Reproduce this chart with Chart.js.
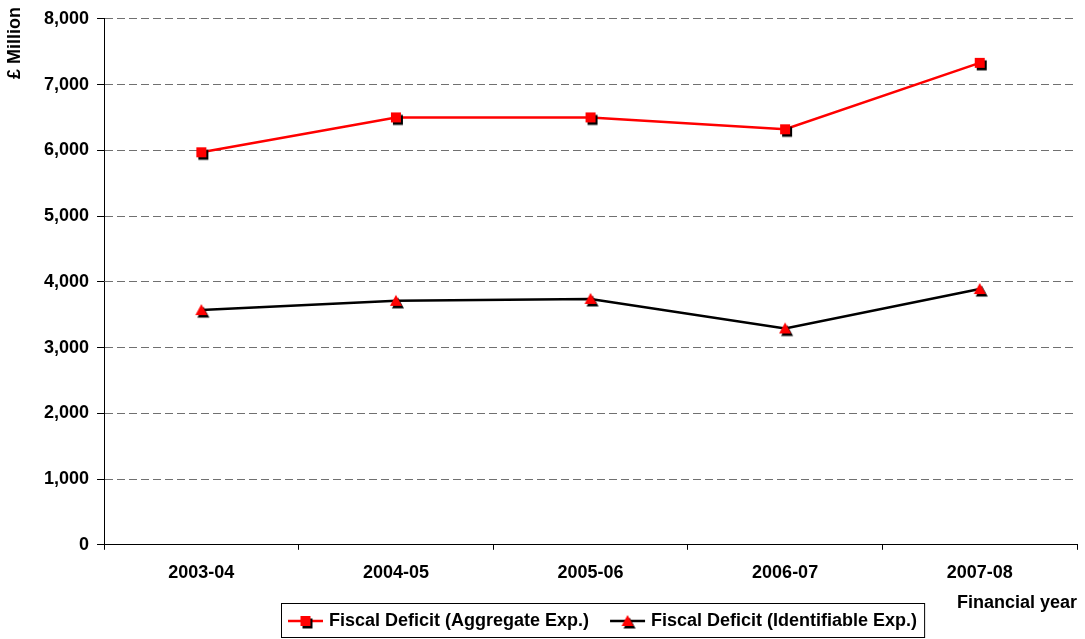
<!DOCTYPE html>
<html>
<head>
<meta charset="utf-8">
<script src="https://cdn.jsdelivr.net/npm/chart.js@4"></script>
<style>
    html, body { margin: 0; padding: 0; background: #fff; }
    #wrap { width: 1085px; height: 639px; }
</style>
</head>
<body>
<div id="wrap"><canvas id="deficit-chart" width="1085" height="639"></canvas></div>
<script>
const years = ['2003-04', '2004-05', '2005-06', '2006-07', '2007-08'];
const aggregateDeficit = [5970, 6500, 6500, 6320, 7330];
const identifiableDeficit = [3570, 3710, 3740, 3290, 3890];
const seriesLabels = ['Fiscal Deficit (Aggregate Exp.)', 'Fiscal Deficit (Identifiable Exp.)'];
const yTitle = '£ Million';
const xTitle = 'Financial year';

const FONT = '"Liberation Sans", Arial, sans-serif';

// marker images: red shape with a black drop shadow, like the old Excel look
function makeMarker(shape) {
    const c = document.createElement('canvas');
    c.width = 20;
    c.height = 20;
    const g = c.getContext('2d');
    const draw = (dx, dy, color) => {
        g.fillStyle = color;
        g.beginPath();
        if (shape === 'square') {
            g.rect(5 + dx, 5 + dy, 10, 10);
        } else {
            g.moveTo(10 + dx, 4 + dy);
            g.lineTo(16 + dx, 15 + dy);
            g.lineTo(4 + dx, 15 + dy);
            g.closePath();
        }
        g.fill();
    };
    draw(2, 2.5, '#000000');
    draw(0, 0, '#ff0000');
    return c;
}

const squareMarker = makeMarker('square');
const triangleMarker = makeMarker('triangle');

const extraText = {
    id: 'extraText',
    afterDraw(chart) {
        const ctx = chart.ctx;
        ctx.save();
        ctx.fillStyle = '#000';
        ctx.font = 'bold 18px ' + FONT;
        ctx.textAlign = 'center';
        ctx.textBaseline = 'middle';
        ctx.translate(15, 43);
        ctx.rotate(-Math.PI / 2);
        ctx.fillText(yTitle, 0, 0);
        ctx.restore();

        // boxed legend
        ctx.save();
        ctx.font = 'bold 18px ' + FONT;
        const items = chart.data.datasets.map(ds => ({
            text: ds.label,
            color: ds.borderColor,
            marker: ds.pointStyle,
            w: ctx.measureText(ds.label).width
        }));
        const sample = 35, gap = 6, itemGap = 21, padX = 7;
        let total = padX * 2;
        items.forEach((it, i) => {
            total += sample + gap + it.w + (i > 0 ? itemGap : 0);
        });
        const boxX = 281, boxY = 603, boxH = 34;
        ctx.strokeStyle = '#000';
        ctx.lineWidth = 1;
        ctx.strokeRect(boxX + 0.5, boxY + 0.5, total, boxH);
        let x = boxX + padX;
        const cy = boxY + boxH / 2 + 1;
        items.forEach((it, i) => {
            if (i > 0) x += itemGap;
            ctx.strokeStyle = it.color;
            ctx.lineWidth = 2.5;
            ctx.beginPath();
            ctx.moveTo(x, cy);
            ctx.lineTo(x + sample, cy);
            ctx.stroke();
            ctx.drawImage(it.marker, x + sample / 2 - 10, cy - 10);
            x += sample + gap;
            ctx.fillStyle = '#000';
            ctx.textAlign = 'left';
            ctx.textBaseline = 'middle';
            ctx.fillText(it.text, x, cy);
            x += it.w;
        });
        ctx.restore();
    }
};

document.addEventListener('DOMContentLoaded', () => {
    const canvas = document.getElementById('deficit-chart');
    const ctx = canvas.getContext('2d');
    const tickFont = { family: FONT, size: 18, weight: 'bold' };

    new Chart(ctx, {
        type: 'line',
        data: {
            labels: years,
            datasets: [
                {
                    label: seriesLabels[0],
                    data: aggregateDeficit,
                    borderColor: '#ff0000',
                    backgroundColor: '#ff0000',
                    borderWidth: 2.5,
                    pointStyle: squareMarker,
                    tension: 0
                },
                {
                    label: seriesLabels[1],
                    data: identifiableDeficit,
                    borderColor: '#000000',
                    backgroundColor: '#000000',
                    borderWidth: 2.5,
                    pointStyle: triangleMarker,
                    tension: 0
                }
            ]
        },
        options: {
            responsive: false,
            animation: false,
            layout: {
                padding: { left: 36, right: 8, top: 11, bottom: 25 }
            },
            plugins: {
                legend: { display: false },
                tooltip: { enabled: false }
            },
            scales: {
                x: {
                    offset: true,
                    grid: {
                        offset: true,
                        drawOnChartArea: false,
                        tickLength: 5,
                        tickColor: '#000',
                        lineWidth: 1
                    },
                    border: { color: '#000', width: 1 },
                    ticks: {
                        color: '#000',
                        font: tickFont,
                        padding: 12,
                        maxRotation: 0
                    },
                    title: {
                        display: true,
                        text: xTitle,
                        align: 'end',
                        color: '#000',
                        font: tickFont,
                        padding: { top: -3, bottom: 0 }
                    }
                },
                y: {
                    min: 0,
                    max: 8000,
                    grid: {
                        color: '#707070',
                        lineWidth: 1,
                        tickLength: 7,
                        tickColor: '#000',
                        tickBorderDash: []
                    },
                    border: { color: '#000', width: 1, dash: [8, 4] },
                    ticks: {
                        stepSize: 1000,
                        color: '#000',
                        font: tickFont,
                        padding: 8,
                        callback: v => v.toLocaleString('en-GB')
                    }
                }
            }
        },
        plugins: [extraText]
    });
});
</script>
</body>
</html>
